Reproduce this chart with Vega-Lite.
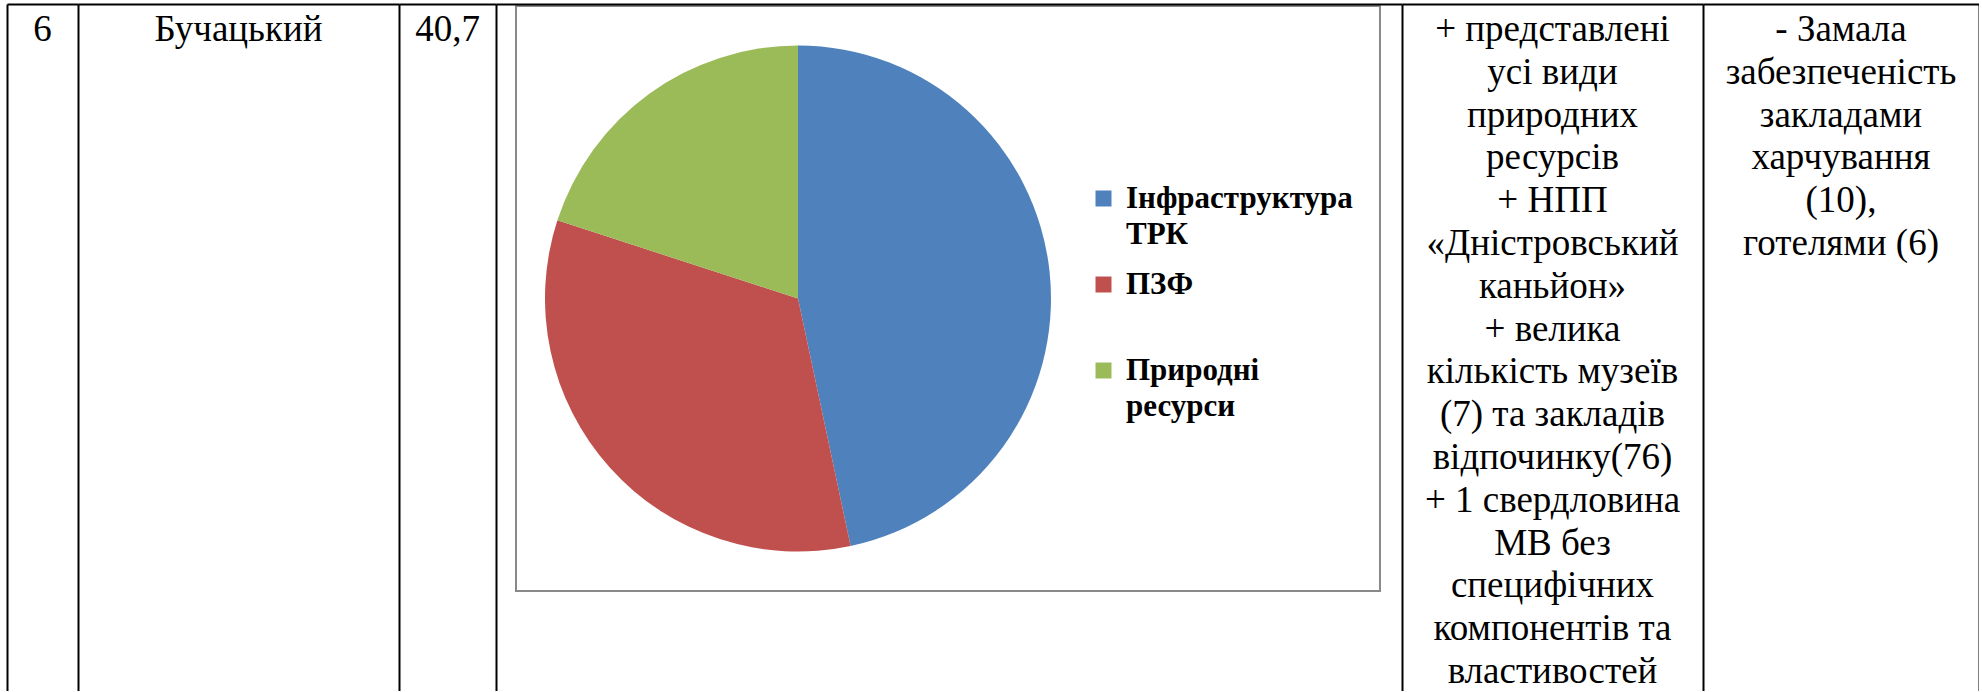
{
  "$schema": "https://vega.github.io/schema/vega-lite/v6.json",
  "background": "white",
  "padding": {"left": 7, "top": 4, "right": 0, "bottom": 0},
  "bounds": "flush",
  "spacing": 0,
  "config": {
    "font": "'Liberation Serif', 'DejaVu Serif', serif",
    "view": {"stroke": null},
    "axis": {"labels": false, "ticks": false, "grid": false, "domainColor": "#000000", "domainWidth": 2, "minExtent": 0, "maxExtent": 0}
  },
  "hconcat": [
    {
      "width": 71, "height": 687,
      "data": {"values": [{"cell": "c1", "text": "6"}]},
      "mark": {"type": "text", "clip": true, "font": "'Liberation Serif', 'DejaVu Serif', serif", "fontSize": 37, "lineHeight": 42.8, "color": "#000000", "lineBreak": "\n", "baseline": "alphabetic", "dy": 37},
      "encoding": {
        "x": {"field": "cell", "type": "nominal", "axis": {"orient": "top", "title": null}},
        "y": {"field": "cell", "type": "nominal", "scale": {"padding": 0, "align": 0}, "axis": {"orient": "left", "title": null}},
        "text": {"field": "text"}
      }
    },
    {
      "width": 321, "height": 687,
      "data": {"values": [{"cell": "c2", "text": "Бучацький"}]},
      "mark": {"type": "text", "clip": true, "font": "'Liberation Serif', 'DejaVu Serif', serif", "fontSize": 37, "lineHeight": 42.8, "color": "#000000", "lineBreak": "\n", "baseline": "alphabetic", "dy": 37},
      "encoding": {
        "x": {"field": "cell", "type": "nominal", "axis": {"orient": "top", "title": null}},
        "y": {"field": "cell", "type": "nominal", "scale": {"padding": 0, "align": 0}, "axis": {"orient": "left", "title": null}},
        "text": {"field": "text"}
      }
    },
    {
      "width": 97, "height": 687,
      "data": {"values": [{"cell": "c3", "text": "40,7"}]},
      "mark": {"type": "text", "clip": true, "font": "'Liberation Serif', 'DejaVu Serif', serif", "fontSize": 37, "lineHeight": 42.8, "color": "#000000", "lineBreak": "\n", "baseline": "alphabetic", "dy": 37},
      "encoding": {
        "x": {"field": "cell", "type": "nominal", "axis": {"orient": "top", "title": null}},
        "y": {"field": "cell", "type": "nominal", "scale": {"padding": 0, "align": 0}, "axis": {"orient": "left", "title": null}},
        "text": {"field": "text"}
      }
    },
    {
      "width": 906, "height": 687,
      "layer": [
        {
          "data": {"values": [{"cell": "chart"}]},
          "mark": {"type": "rect", "fill": "white", "stroke": "#898989", "strokeWidth": 2},
          "encoding": {
            "x": {"field": "cell", "type": "nominal", "scale": {"paddingInner": 0, "paddingOuter": 0.02431, "align": 0.476}, "axis": {"orient": "top", "title": null}},
            "y": {"field": "cell", "type": "nominal", "scale": {"paddingInner": 0, "paddingOuter": 0.08718, "align": 0.0196}, "axis": {"orient": "left", "title": null}}
          }
        },
        {
          "data": {"values": [
            {"category": "Інфраструктура ТРК", "value": 7},
            {"category": "ПЗФ", "value": 5},
            {"category": "Природні ресурси", "value": 3}
          ]},
          "mark": {"type": "arc", "radius": 253, "x": 302, "y": 294.5},
          "encoding": {
            "theta": {"field": "value", "type": "quantitative", "stack": true},
            "color": {
              "field": "category", "type": "nominal",
              "sort": ["Інфраструктура ТРК", "ПЗФ", "Природні ресурси"],
              "scale": {"range": ["#4F81BD", "#C0504D", "#9BBB59"]},
              "legend": {
                "orient": "none", "legendX": 1081, "legendY": 179, "title": null, "padding": 0,
                "symbolType": "square", "symbolSize": 256, "symbolStrokeWidth": 0, "symbolOpacity": 1,
                "labelFont": "'Liberation Serif', 'DejaVu Serif', serif", "labelFontWeight": "bold", "labelFontSize": 31, "labelColor": "#000000",
                "labelLimit": 0, "labelOffset": 7, "rowPadding": 18,
                "labelExpr": "datum.value == 'Інфраструктура ТРК' ? ['Інфраструктура', 'ТРК'] : datum.value == 'Природні ресурси' ? ['Природні', 'ресурси'] : ['ПЗФ', '']",
                "encode": {"labels": {"update": {"lineHeight": {"value": 36}}}}
              }
            }
          }
        }
      ]
    },
    {
      "width": 301, "height": 687,
      "data": {"values": [{"cell": "c5", "text": "+ представлені\nусі види\nприродних\nресурсів\n+ НПП\n«Дністровський\nканьйон»\n+ велика\nкількість музеїв\n(7) та закладів\nвідпочинку(76)\n+ 1 свердловина\nМВ без\nспецифічних\nкомпонентів та\nвластивостей"}]},
      "mark": {"type": "text", "clip": true, "font": "'Liberation Serif', 'DejaVu Serif', serif", "fontSize": 37, "lineHeight": 42.8, "color": "#000000", "lineBreak": "\n", "baseline": "alphabetic", "dy": 37},
      "encoding": {
        "x": {"field": "cell", "type": "nominal", "axis": {"orient": "top", "title": null}},
        "y": {"field": "cell", "type": "nominal", "scale": {"padding": 0, "align": 0}, "axis": {"orient": "left", "title": null}},
        "text": {"field": "text"}
      }
    },
    {
      "width": 276, "height": 687,
      "data": {"values": [{"cell": "c6", "text": "- Замала\nзабезпеченість\nзакладами\nхарчування\n(10),\nготелями (6)"}]},
      "layer": [
        {
          "mark": {"type": "text", "clip": true, "font": "'Liberation Serif', 'DejaVu Serif', serif", "fontSize": 37, "lineHeight": 42.8, "color": "#000000", "lineBreak": "\n", "baseline": "alphabetic", "dy": 37},
          "encoding": {
            "x": {"field": "cell", "type": "nominal", "axis": {"orient": "top", "title": null}},
            "y": {"field": "cell", "type": "nominal", "scale": {"padding": 0, "align": 0}, "axis": {"orient": "left", "title": null}},
            "text": {"field": "text"}
          }
        },
        {
          "mark": {"type": "text", "clip": true, "opacity": 0},
          "encoding": {
            "y": {"field": "cell", "type": "nominal", "axis": {"orient": "right", "title": null}},
            "text": {"value": ""}
          }
        }
      ],
      "resolve": {"axis": {"y": "independent"}}
    }
  ]
}
